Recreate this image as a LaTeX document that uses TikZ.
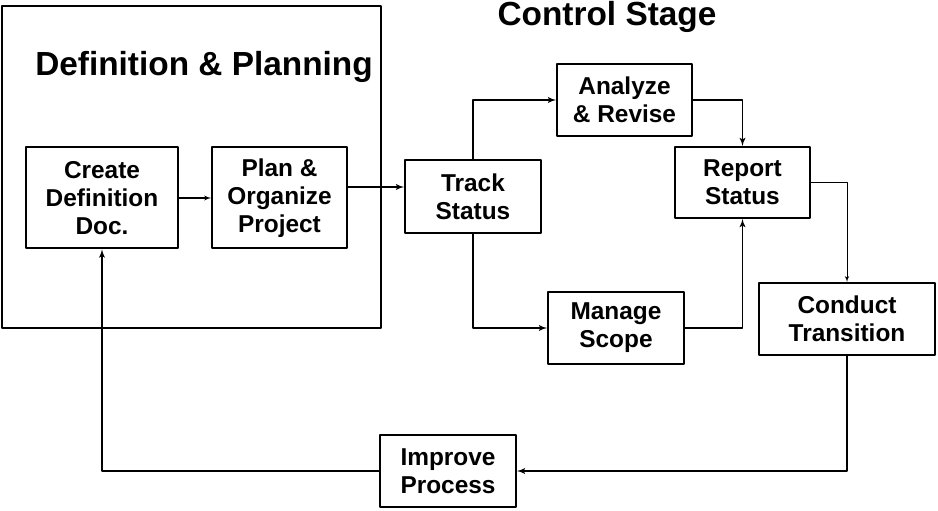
\documentclass[tikz,border=0pt]{standalone}
\usepackage{fontspec}
\setmainfont{Liberation Sans}
\usetikzlibrary{arrows}

\begin{document}
\begin{tikzpicture}[>=latex',line join=bevel,x=1bp,y=-1bp,
  stage/.style={draw,line width=2bp,align=center,inner sep=0pt,
    font=\bfseries\fontsize{24.5}{28}\selectfont},
  flow/.style={->,line width=1.8bp},
  thinflow/.style={->,line width=1bp}]
\useasboundingbox (0,0) rectangle (938,511);
%%
\node (defbox) at (191.5,167) [draw,line width=2bp,minimum width=379bp,minimum height=322bp] {};
  \node (deftitle) at (204,67) [font=\bfseries\fontsize{33.5}{40}\selectfont] {Definition \& Planning};
  \node (ctltitle) at (607,17) [font=\bfseries\fontsize{33.5}{40}\selectfont] {Control Stage};
  \node (create) at (102,198) [stage,minimum width=152bp,minimum height=101bp] {Create\\Definition\\Doc.};
  \node (plan) at (279.5,198) [stage,minimum width=135bp,minimum height=101bp] {Plan \&\\Organize\\Project};
  \node (track) at (473,196.5) [stage,minimum width=136bp,minimum height=73bp] {Track\\Status};
  \node (analyze) at (624.5,100) [stage,minimum width=135bp,minimum height=72bp] {Analyze\\\& Revise};
  \node (report) at (742.5,182.5) [stage,minimum width=135bp,minimum height=71bp] {Report\\Status};
  \node (manage) at (616,328) [stage,minimum width=136bp,minimum height=72bp] {Manage\\Scope};
  \node (conduct) at (847,319) [stage,minimum width=176bp,minimum height=72bp] {Conduct\\Transition};
  \node (improve) at (448,471) [stage,minimum width=136bp,minimum height=72bp] {Improve\\Process};
  \coordinate (handoff) at (0,187);
  \coordinate (rep) at (0,183);
  \draw [thinflow,line width=1.3bp] (create) -- (plan);
  \draw [flow] (plan.east |- handoff) -- (track.west |- handoff);
  \draw [flow] (track.north) |- (analyze.west);
  \draw [flow] (analyze.east) -| (report.north);
  \draw [flow] (track.south) |- (manage.west);
  \draw [flow] (manage.east) -| (report.south);
  \draw [thinflow] (report.east |- rep) -| (conduct.north);
  \draw [flow] (conduct.south) |- (improve.east);
  \draw [flow] (improve.west) -| (create.south);
%
\end{tikzpicture}
\end{document}
